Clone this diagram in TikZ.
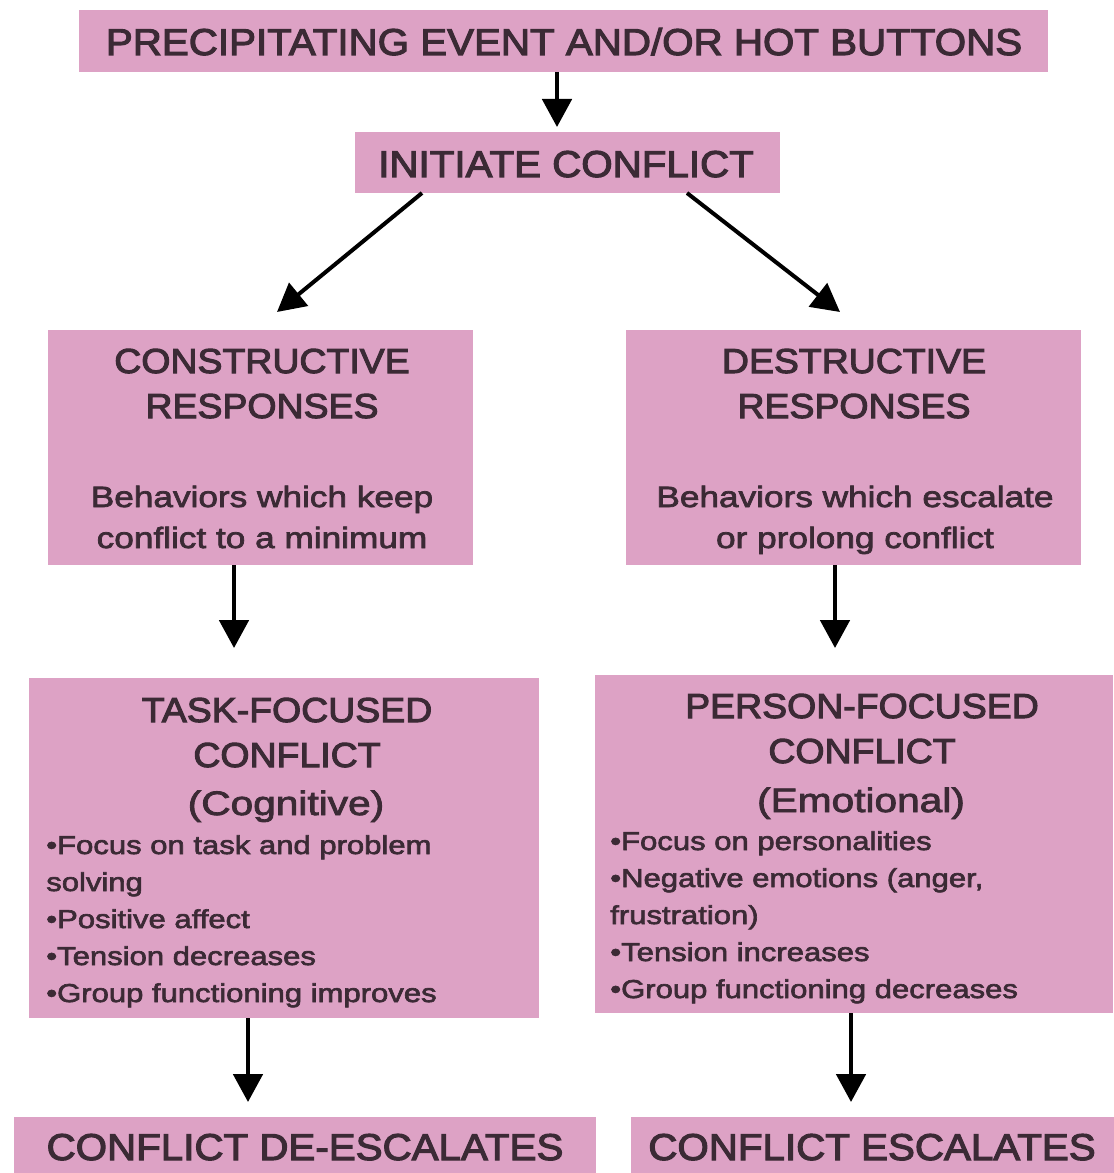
\documentclass[tikz,border=0pt]{standalone}
\usepackage{fontspec}
\setmainfont{Liberation Sans}
\newfontfamily\headfont{Liberation Sans}[FakeStretch=1.08,FakeBold=3]
\newfontfamily\widefont{Liberation Sans}[FakeStretch=1.2,FakeBold=2.5]
\usetikzlibrary{arrows.meta,calc,fit}
\definecolor{boxpink}{HTML}{DDA2C5}
\definecolor{ink}{HTML}{3B2A35}
\tikzset{
  box/.style={fill=boxpink, draw=none, inner sep=0pt, outer sep=0pt, rectangle},
  arr/.style={line width=3pt, -{Triangle[length=21pt,width=22pt]}, black},
  bigtitle/.style={text=ink, inner sep=0pt, anchor=base, align=center, font=\headfont\fontsize{28pt}{34pt}\selectfont},
  headtxt/.style={text=ink, inner sep=0pt, anchor=base, align=center, font=\headfont\fontsize{26pt}{33.75pt}\selectfont},
  parentxt/.style={text=ink, inner sep=0pt, anchor=base, align=center, font=\widefont\fontsize{25.4pt}{34pt}\selectfont},
  desctxt/.style={text=ink, inner sep=0pt, anchor=base, align=center, font=\widefont\fontsize{22pt}{30.75pt}\selectfont},
  bullettxt/.style={text=ink, inner sep=0pt, anchor=base west, align=left, font=\widefont\fontsize{19.4pt}{27.75pt}\selectfont},
}
\begin{document}
\begin{tikzpicture}[x=0.75pt,y=-0.75pt]
\useasboundingbox (0,0) rectangle (1113,1173);
\fill[white] (0,0) rectangle (1113,1173);

% boxes
\node[box, fit={(79,10) (1048,72)}] (top) {};
\node[box, fit={(355,132) (780,193)}] (init) {};
\node[box, fit={(48,330) (473,565)}] (cons) {};
\node[box, fit={(626,330) (1081,565)}] (dest) {};
\node[box, fit={(29,678) (539,1018)}] (task) {};
\node[box, fit={(595,675) (1113,1013)}] (pers) {};
\node[box, fit={(14,1117) (596,1185)}] (deesc) {};
\node[box, fit={(631,1117) (1120,1185)}] (esc) {};

% texts (multi-line nodes: base = baseline of the last line)
\node[bigtitle] (toptxt) at (564,55) {PRECIPITATING EVENT AND/OR HOT BUTTONS};
\node[bigtitle] (inittxt) at (566,177) {INITIATE CONFLICT};

\node[headtxt] (conshead) at (262,418) {CONSTRUCTIVE\\RESPONSES};
\node[desctxt] (consdesc) at (262,548) {Behaviors which keep\\conflict to a minimum};

\node[headtxt] (desthead) at (854,418) {DESTRUCTIVE\\RESPONSES};
\node[desctxt] (destdesc) at (855,548) {Behaviors which escalate\\or prolong conflict};

\node[headtxt] (taskhead) at (287,767) {TASK-FOCUSED\\CONFLICT};
\node[parentxt] (taskparen) at (286,815) {(Cognitive)};
\node[bullettxt] (taskbul) at (46,1002) {\textbullet Focus on task and problem\\solving\\\textbullet Positive affect\\\textbullet Tension decreases\\\textbullet Group functioning improves};

\node[headtxt] (pershead) at (862,763) {PERSON-FOCUSED\\CONFLICT};
\node[parentxt] (persparen) at (861,812) {(Emotional)};
\node[bullettxt] (persbul) at (610,998) {\textbullet Focus on personalities\\\textbullet Negative emotions (anger,\\frustration)\\\textbullet Tension increases\\\textbullet Group functioning decreases};

\node[bigtitle] (deesctxt) at (305,1160) {CONFLICT DE-ESCALATES};
\node[bigtitle] (esctxt) at (872,1160) {CONFLICT ESCALATES};

% arrows
\draw[arr] ($(top.south west)+(478,0)$) -- ($(init.north west)+(202,-5)$);
\draw[arr] ($(init.south west)+(67,0)$) -- ($(cons.north west)+(229,-18)$);
\draw[arr] ($(init.south west)+(332,0)$) -- ($(dest.north west)+(214,-18)$);
\draw[arr] ($(cons.south west)+(186,0)$) -- ($(task.north west)+(205,-30)$);
\draw[arr] ($(dest.south west)+(209,0)$) -- ($(pers.north west)+(240,-27)$);
\draw[arr] ($(task.south west)+(219,0)$) -- ($(deesc.north west)+(234,-15)$);
\draw[arr] ($(pers.south west)+(256,0)$) -- ($(esc.north west)+(220,-15)$);
\end{tikzpicture}
\end{document}
